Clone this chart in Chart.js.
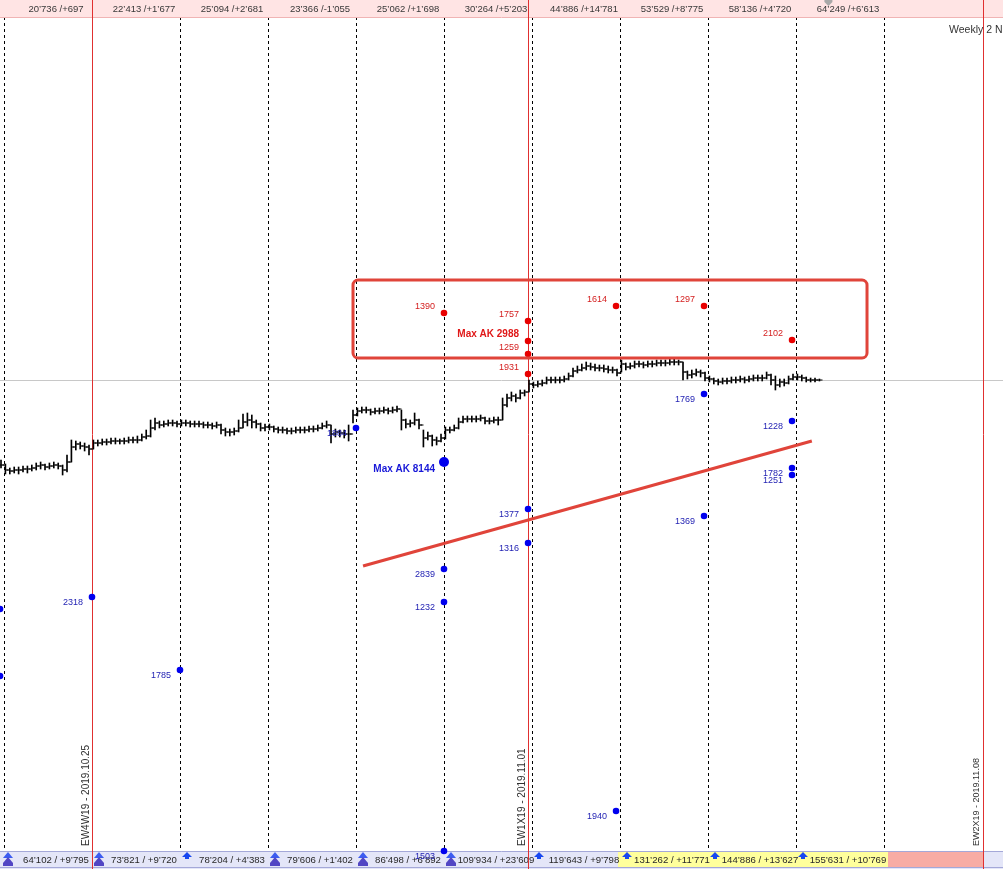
<!DOCTYPE html>
<html><head><meta charset="utf-8">
<script src="https://cdn.jsdelivr.net/npm/chart.js@4/dist/chart.umd.min.js"></script>
<style>html,body{margin:0;padding:0;background:#fff;overflow:hidden}#wrap{position:relative;width:1003px;height:869px}</style>
</head><body><div id="wrap"><canvas id="c" width="1003" height="869"></canvas></div>
<script>
// ---------- DATA ----------
// hourly-ish bars, 20 per trading day; day 0 = 2019.10.24
const firstBarDay = -0.034;
const barsPerDay = 20;
const barClose = [3005,3000,2999,3000,3000,3001,3001,3002,3004,3005,3003,3004,3005,3004,3000,3008,3023,3026,3024,3023,3021,
3027,3027,3028,3028,3029,3029,3029,3029,3030,3030,3030,3033,3034,3042,3047,3045,3046,3047,3047,3046,
3047,3047,3046,3046,3046,3045,3045,3044,3045,3040,3038,3038,3039,3042,3048,3050,3048,3046,3042,3043,
3043,3041,3040,3040,3039,3039,3040,3040,3040,3041,3041,3042,3044,3045,3036,3038,3037,3036,3036,3055,
3059,3060,3060,3058,3059,3059,3060,3059,3060,3061,3050,3046,3047,3050,3045,3032,3034,3030,3029,3032,
3040,3040,3042,3048,3051,3051,3051,3051,3052,3049,3049,3050,3050,3065,3072,3074,3072,3077,3078,3086,
3085,3086,3087,3090,3090,3090,3090,3091,3094,3099,3100,3102,3104,3103,3102,3102,3101,3100,3100,3097,
3106,3103,3104,3106,3106,3105,3106,3106,3107,3107,3107,3108,3108,3108,3098,3095,3096,3098,3097,3092,
3091,3089,3088,3089,3089,3090,3090,3091,3090,3091,3092,3092,3092,3095,3090,3085,3088,3087,3091,3093,
3093,3092,3090,3090,3090,3090];
const barHigh = [3010,3006,3002,3003,3003,3004,3004,3005,3007,3008,3006,3007,3008,3007,3005,3015,3030,3029,3028,3027,3025,
3030,3030,3031,3031,3032,3032,3031,3032,3033,3033,3034,3036,3040,3050,3052,3049,3049,3050,3050,3049,
3050,3050,3049,3049,3049,3048,3048,3047,3048,3046,3042,3041,3042,3050,3056,3057,3055,3050,3047,3046,
3046,3044,3043,3043,3042,3042,3043,3043,3043,3044,3044,3045,3047,3049,3045,3041,3040,3040,3045,3060,
3062,3063,3063,3061,3062,3062,3063,3062,3063,3064,3060,3051,3050,3057,3051,3040,3038,3035,3033,3036,
3043,3043,3045,3052,3054,3054,3054,3054,3055,3053,3052,3053,3053,3072,3076,3078,3076,3080,3080,3090,
3088,3089,3090,3093,3093,3093,3093,3094,3097,3102,3104,3106,3108,3107,3106,3105,3105,3104,3103,3101,
3110,3107,3107,3109,3109,3108,3109,3109,3110,3110,3110,3111,3111,3110,3108,3099,3100,3101,3100,3098,
3094,3092,3091,3092,3092,3093,3093,3094,3093,3094,3095,3095,3095,3098,3096,3094,3091,3091,3094,3096,
3096,3095,3093,3092,3092,3091];
const barLow = [3002,2996,2996,2997,2996,2998,2997,2999,3000,3001,3000,3001,3002,3001,2995,2998,3008,3020,3021,3019,3015,
3021,3024,3025,3025,3026,3026,3026,3026,3027,3027,3027,3029,3031,3033,3040,3042,3043,3044,3044,3043,
3044,3044,3043,3043,3043,3042,3042,3041,3042,3036,3034,3034,3035,3038,3042,3044,3042,3042,3039,3039,
3040,3038,3037,3037,3036,3036,3037,3037,3037,3038,3038,3039,3041,3042,3027,3033,3033,3032,3029,3047,
3054,3057,3057,3055,3056,3056,3057,3056,3057,3058,3040,3042,3043,3045,3041,3023,3030,3024,3025,3028,
3031,3037,3039,3041,3047,3048,3048,3048,3049,3046,3046,3047,3045,3050,3063,3069,3068,3071,3074,3078,
3082,3083,3084,3086,3087,3087,3087,3088,3090,3093,3097,3099,3100,3100,3099,3099,3098,3097,3097,3094,
3098,3100,3101,3102,3103,3102,3103,3103,3104,3104,3104,3105,3105,3105,3090,3091,3092,3094,3093,3089,
3088,3086,3085,3086,3086,3087,3087,3088,3087,3088,3089,3089,3089,3091,3085,3080,3083,3084,3086,3090,
3090,3089,3088,3088,3088,3089];
const lastPrice = 3090;

// volume dots (day position, price level, label)
const redDotDay   = [5, 5.955, 5.955, 5.955, 5.955, 6.955, 7.955, 8.955];
const redDotLevel = [3157, 3149, 3129, 3116, 3096, 3164, 3164, 3130];
const redDotLabel = ["1390","1757","Max AK 2988","1259","1931","1614","1297","2102"];
const blueDotDay   = [-0.045, -0.045, 1, 2, 4, 5, 5, 5, 5, 5.955, 5.955, 6.955, 7.955, 7.955, 8.955, 8.955, 8.955];
const blueDotLevel = [2861, 2794, 2873, 2800, 3042, 3008, 2901, 2868, 2619, 2961, 2927, 2659, 3076, 2954, 3049, 3002, 2995];
const blueDotLabel = ["","","2318","1785","1884","Max AK 8144","2839","1232","1503","1377","1316","1940","1769","1369","1228","1782","1251"];

// trend line and zone box
const trendDay = [4.08, 9.18];
const trendLevel = [2904, 3029];
const zoneDay = [3.966, 9.807];
const zoneLevel = [3190, 3112];

// time grid
const dayLines = [0, 2, 3, 4, 5, 6, 7, 8, 9, 10];
const expiryDay = [1, 5.955, 11.125];
const expiryLabel = ["EW4W19 - 2019.10.25", "EW1X19 - 2019.11.01", "EW2X19 - 2019.11.08"];
const expiryFontPx = [10, 10, 9];
const topLabels = ["20’736 /+697","22’413 /+1’677","25’094 /+2’681","23’366 /-1’055","25’062 /+1’698","30’264 /+5’203","44’886 /+14’781","53’529 /+8’775","58’136 /+4’720","64’249 /+6’613"];
const bottomLabels = ["64’102 / +9’795","73’821 / +9’720","78’204 / +4’383","79’606 / +1’402","86’498 / +6’892","109’934 / +23’609","119’643 / +9’798","131’262 / +11’771","144’886 / +13’627","155’631 / +10’769"];
const bottomArrow = ["double","double","single","double","double","double","single","single","single","single"];
const bottomFill = ["","","","","","","","yellow","yellow","yellow"];
const title = "Weekly 2 N";

// ---------- CHART ----------
const X_MIN = -4/88, X_MAX = X_MIN + 1003/88;
const Y_MIN = 2601, Y_MAX = 3470;
const barDay = i => firstBarDay + i / barsPerDay;
const tickHalf = 0.017;

const hlData = barClose.map((c,i)=>({x:barDay(i), y:[barLow[i], barHigh[i]]}));
const openData = barClose.map((c,i)=>({x:barDay(i)-tickHalf, y: i===0 ? barClose[0] : barClose[i-1]}));
const closeData = barClose.map((c,i)=>({x:barDay(i)+tickHalf, y:c}));

const FONT = '"Liberation Sans", Arial, sans-serif';

const overlay = {
  id:'overlay',
  beforeDatasetsDraw(chart){
    const ctx = chart.ctx, W = chart.width, H = chart.height;
    const X = v => chart.scales.x.getPixelForValue(v);
    const Y = v => chart.scales.y.getPixelForValue(v);
    const TOP_H = 17, BOT_Y = 851;
    ctx.save();
    // last price line
    ctx.strokeStyle = '#c8c8c8'; ctx.lineWidth = 1;
    let gy = Math.round(Y(lastPrice)) + 0.5;
    ctx.beginPath(); ctx.moveTo(0,gy); ctx.lineTo(W,gy); ctx.stroke();
    // dashed day lines
    ctx.strokeStyle = '#000'; ctx.setLineDash([3,3]);
    dayLines.forEach(d=>{ const x = Math.round(X(d))+0.5; ctx.beginPath(); ctx.moveTo(x,TOP_H); ctx.lineTo(x,BOT_Y); ctx.stroke(); });
    ctx.setLineDash([]);
    // top bar
    ctx.fillStyle = '#ffe4e4'; ctx.fillRect(0,0,W,TOP_H);
    ctx.strokeStyle = '#f0b4b4'; ctx.beginPath(); ctx.moveTo(0,TOP_H+0.5); ctx.lineTo(W,TOP_H+0.5); ctx.stroke();
    // bottom bar
    ctx.fillStyle = '#e4e6f8'; ctx.fillRect(0,BOT_Y,W,H-BOT_Y);
    bottomFill.forEach((f,k)=>{ if(f==='yellow'){ ctx.fillStyle='#ffff9c'; const a=X(k)-2, b=X(k+1)-2 + (k===9?6:0); ctx.fillRect(a,BOT_Y+1,b-a,H-BOT_Y-3);} });
    ctx.fillStyle = '#f8aca4'; { const a = X(10)+4, b = X(expiryDay[2]); ctx.fillRect(a,BOT_Y+1,b-a,H-BOT_Y-3); }
    ctx.strokeStyle = '#a4a8d8';
    ctx.beginPath(); ctx.moveTo(0,BOT_Y+0.5); ctx.lineTo(W,BOT_Y+0.5); ctx.moveTo(0,H-1.5); ctx.lineTo(W,H-1.5); ctx.stroke();
    // top labels
    ctx.fillStyle = '#383838'; ctx.font = '9.5px ' + FONT; ctx.textAlign='center'; ctx.textBaseline='middle';
    topLabels.forEach((t,k)=>{ const cx = (X(k)+X(k+1))/2 + 8; ctx.fillText(t, cx, 9); });
    // small gray marker
    ctx.fillStyle = '#a8a8a8'; { const mx = X(barDay(barClose.length-1)) + 9; ctx.beginPath(); ctx.moveTo(mx-4,0); ctx.lineTo(mx+4,0); ctx.lineTo(mx+4,2); ctx.lineTo(mx,6); ctx.lineTo(mx-4,2); ctx.closePath(); ctx.fill(); }
    // bottom labels + arrows
    ctx.font = '9.6px ' + FONT; ctx.fillStyle = '#282828';
    bottomLabels.forEach((t,k)=>{ const cx = (X(k)+X(k+1))/2 + 8; ctx.fillText(t, cx, 860); });
    bottomArrow.forEach((a,k)=>{
      const ax = Math.round(X(k)) + (k===0 ? 4 : 7);
      if(a==='double'){
        ctx.fillStyle = '#3c5cf0';
        ctx.beginPath(); ctx.moveTo(ax,852); ctx.lineTo(ax+5,858); ctx.lineTo(ax-5,858); ctx.closePath(); ctx.fill();
        ctx.fillStyle = '#5246c4';
        ctx.beginPath(); ctx.moveTo(ax,857); ctx.lineTo(ax+5,863); ctx.lineTo(ax+5,866); ctx.lineTo(ax-5,866); ctx.lineTo(ax-5,863); ctx.closePath(); ctx.fill();
      } else {
        ctx.fillStyle = '#1848f0';
        ctx.beginPath(); ctx.moveTo(ax,852); ctx.lineTo(ax+5,857); ctx.lineTo(ax+2,857); ctx.lineTo(ax+2,859); ctx.lineTo(ax-2,859); ctx.lineTo(ax-2,857); ctx.lineTo(ax-5,857); ctx.closePath(); ctx.fill();
      }
    });
    // expiry red lines
    ctx.strokeStyle = '#e03030'; ctx.lineWidth = 1;
    expiryDay.forEach(d=>{ const x = Math.round(X(d))+0.5; ctx.beginPath(); ctx.moveTo(x,0); ctx.lineTo(x,H); ctx.stroke(); });
    // expiry vertical labels
    ctx.fillStyle = '#303030'; ctx.textAlign='left'; ctx.textBaseline='middle';
    expiryDay.forEach((d,k)=>{ ctx.save(); ctx.font = expiryFontPx[k] + 'px ' + FONT; ctx.translate(X(d)-6, 846); ctx.rotate(-Math.PI/2); ctx.fillText(expiryLabel[k],0,0); ctx.restore(); });
    ctx.restore();
  },
  afterDatasetsDraw(chart){
    const ctx = chart.ctx;
    const X = v => chart.scales.x.getPixelForValue(v);
    const Y = v => chart.scales.y.getPixelForValue(v);
    ctx.save();
    // zone box
    const x0 = X(zoneDay[0]), x1 = X(zoneDay[1]), y0 = Y(zoneLevel[0]), y1 = Y(zoneLevel[1]);
    ctx.strokeStyle = '#e0443a'; ctx.lineWidth = 3;
    ctx.beginPath(); ctx.roundRect(x0, y0, x1-x0, y1-y0, 5); ctx.stroke();
    // dot labels
    ctx.textAlign = 'right'; ctx.textBaseline = 'middle';
    const redMeta = chart.getDatasetMeta(4), blueMeta = chart.getDatasetMeta(5);
    redMeta.data.forEach((p,i)=>{
      const t = redDotLabel[i]; const bold = t.startsWith('Max');
      ctx.font = (bold ? 'bold 10px ' : '9px ') + FONT;
      ctx.fillStyle = bold ? '#e01818' : '#d42020';
      ctx.fillText(t, p.x - 9, p.y - (bold ? 7 : 6));
    });
    blueMeta.data.forEach((p,i)=>{
      const t = blueDotLabel[i]; if(!t) return; const bold = t.startsWith('Max');
      ctx.font = (bold ? 'bold 10px ' : '9px ') + FONT;
      ctx.fillStyle = bold ? '#1818d8' : '#2424b4';
      ctx.fillText(t, p.x - 9, p.y + (bold ? 7 : 6));
    });
    // title
    ctx.textAlign = 'left'; ctx.fillStyle = '#333'; ctx.font = '10.5px ' + FONT;
    ctx.fillText(title, 949, 30);
    ctx.restore();
  }
};

new Chart(document.getElementById('c'), {
  type: 'bar',
  data: {
    datasets: [
      { type:'bar', data: hlData, backgroundColor:'#000', borderWidth:0, barThickness:1, order:5 },
      { type:'scatter', data: openData, pointStyle:'line', pointRadius:1.6, borderColor:'#000', borderWidth:1, order:4 },
      { type:'scatter', data: closeData, pointStyle:'line', pointRadius:1.6, borderColor:'#000', borderWidth:1, order:4 },
      { type:'line', data: trendDay.map((d,i)=>({x:d, y:trendLevel[i]})), borderColor:'#e0443a', borderWidth:3, pointRadius:0, order:3 },
      { type:'scatter', data: redDotDay.map((d,i)=>({x:d, y:redDotLevel[i]})), backgroundColor:'#e80000', borderWidth:0, pointRadius:3.3, order:2 },
      { type:'scatter', data: blueDotDay.map((d,i)=>({x:d, y:blueDotLevel[i]})), backgroundColor:'#0000ee', borderWidth:0,
        pointRadius: blueDotLabel.map(t=>t.startsWith('Max') ? 5 : 3.3), order:1 }
    ]
  },
  options: {
    responsive:false, animation:false, events:[], devicePixelRatio:1,
    layout:{padding:0, autoPadding:false},
    plugins:{legend:{display:false}, tooltip:{enabled:false}},
    scales:{
      x:{type:'linear', min:X_MIN, max:X_MAX, display:false, offset:false},
      y:{type:'linear', min:Y_MIN, max:Y_MAX, display:false}
    }
  },
  plugins:[overlay]
});
</script></body></html>
